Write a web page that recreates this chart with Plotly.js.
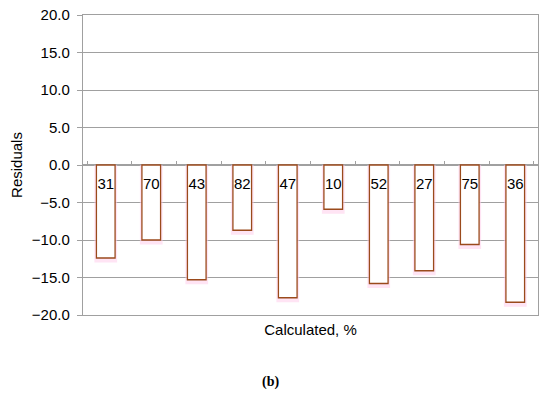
<!DOCTYPE html>
<html><head><meta charset="utf-8">
<script src="https://cdn.plot.ly/plotly-3.0.1.min.js"></script>
<style>html,body{margin:0;padding:0;background:#fff}#chart{width:550px;height:396px}</style>
</head><body><div id="chart"></div>
<script>
const categories = ["31","70","43","82","47","10","52","27","75","36"];
const residuals = [-12.4, -10.0, -15.3, -8.7, -17.7, -5.9, -15.8, -14.1, -10.6, -18.3];
const yTickVals = [-20,-15,-10,-5,0,5,10,15,20];
const labelY = categories.map(() => -2.7);

const font = "Liberation Sans, Arial, sans-serif";
const traces = [
  { type:"bar", x:categories, y:residuals.map(v => v - 0.6), base:0, width:0.5,
    marker:{color:"rgba(255,205,235,0.55)", line:{width:0}}, hoverinfo:"skip", showlegend:false },
  { type:"bar", x:categories, y:residuals, width:0.41,
    marker:{color:"#ffffff", line:{color:"#9a4a1c", width:1.3}}, showlegend:false },
  { type:"scatter", mode:"text", x:categories, y:labelY, text:categories,
    textfont:{family:font, size:15, color:"#000"}, cliponaxis:false, showlegend:false, hoverinfo:"skip" },
  { type:"scatter", mode:"markers", x:categories, y:residuals, xaxis:"x2", marker:{opacity:0}, showlegend:false, hoverinfo:"skip" }
];
const layout = {
  width:550, height:396, margin:{l:83, r:12, t:15, b:81},
  paper_bgcolor:"#fff", plot_bgcolor:"#fff",
  barmode:"overlay", showlegend:false,
  font:{family:font, size:15, color:"#000"},
  xaxis:{type:"category", categoryorder:"array", categoryarray:categories,
    showticklabels:false, ticks:"", showgrid:false, zeroline:false,
    showline:true, mirror:true, linecolor:"#a0a0a0", linewidth:1.2,
    title:{text:"Calculated, %", font:{family:font, size:15}, standoff:9}},
  xaxis2:{type:"category", categoryorder:"array", categoryarray:categories, overlaying:"x",
    anchor:"free", position:0.5, showticklabels:false, ticks:"inside", ticklen:4,
    tickcolor:"#a0a0a0", tickson:"boundaries", showgrid:false, zeroline:false, showline:false},
  yaxis:{range:[-20,20], tickvals:yTickVals, tickformat:".1f", ticks:"outside", ticklen:5,
    tickcolor:"#a0a0a0", showgrid:true, gridcolor:"#a0a0a0", gridwidth:1,
    zeroline:true, zerolinecolor:"#a0a0a0", zerolinewidth:1.2,
    showline:true, mirror:true, linecolor:"#a0a0a0", linewidth:1.2,
    tickfont:{family:font, size:15}, ticklabelstandoff:4,
    title:{text:"Residuals", font:{family:font, size:15}, standoff:5}},
  annotations:[{text:"<b>(b)</b>", xref:"paper", yref:"paper", x:0.413, y:-0.223, xanchor:"center", yanchor:"middle",
    showarrow:false, font:{family:"Liberation Serif", size:14, color:"#000"}}]
};
Plotly.newPlot("chart", traces, layout, {staticPlot:true, displayModeBar:false});
</script></body></html>
